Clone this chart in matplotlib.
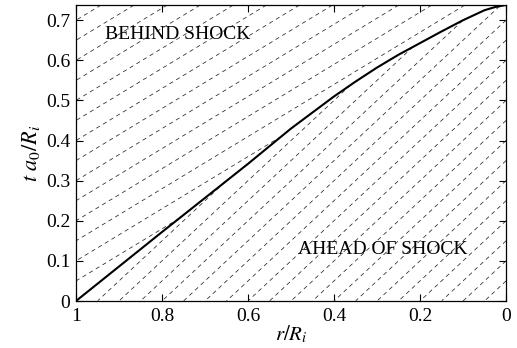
import numpy as np
import matplotlib
matplotlib.use("Agg")
import matplotlib.pyplot as plt

# ---- data ----
shock_r = [1.0, 0.9, 0.8, 0.7, 0.6, 0.5, 0.45, 0.4, 0.35, 0.3, 0.25, 0.2, 0.15, 0.1, 0.05, 0.025, 0.0]
shock_t = [0.0, 0.086, 0.172, 0.257, 0.342, 0.43, 0.47, 0.51, 0.547, 0.582, 0.614, 0.643, 0.672, 0.70, 0.725, 0.733, 0.738]

# characteristic lines ahead of the shock: start radii on t=0, slope dt/d(-r)
ahead_r0 = [0.05, 0.10, 0.15, 0.20, 0.25, 0.30, 0.35, 0.40, 0.45, 0.50, 0.55, 0.60,
            0.65, 0.70, 0.75, 0.80, 0.85, 0.90, 0.95]
ahead_slope = 1.0
# characteristic lines behind the shock: start times on r=1
behind_t0 = [0.05, 0.10, 0.15, 0.20, 0.25, 0.30, 0.35, 0.40, 0.45, 0.50, 0.55, 0.60, 0.65, 0.70]
behind_slope = 0.65

x_ticks = [1, 0.8, 0.6, 0.4, 0.2, 0]
x_ticklabels = ["1", "0.8", "0.6", "0.4", "0.2", "0"]
y_ticks = [0, 0.1, 0.2, 0.3, 0.4, 0.5, 0.6, 0.7]
y_ticklabels = ["0", "0.1", "0.2", "0.3", "0.4", "0.5", "0.6", "0.7"]

plt.rcParams["font.family"] = ["Liberation Serif", "DejaVu Serif"]
plt.rcParams["mathtext.fontset"] = "stix"
plt.rcParams["lines.scale_dashes"] = False

fig = plt.figure(figsize=(5.17, 3.48), dpi=100)
ax = fig.add_axes([76 / 517, 47 / 348, 430 / 517, 296 / 348])

ymax = shock_t[-1]
sr = np.array(shock_r)[::-1]
st = np.array(shock_t)[::-1]
rg = np.linspace(0, 1, 1201)
S = np.interp(rg, sr, st)

dash = (3.0, 2.6)
for r0 in ahead_r0:
    t = ahead_slope * (r0 - rg)
    m = (rg > r0) | (t > S)
    ax.plot(rg, np.ma.masked_where(m, t), color="0.15", lw=0.55, dashes=dash)

for t0 in behind_t0:
    t = t0 + behind_slope * (1 - rg)
    m = (t < S) | (t > ymax + 0.01)
    ax.plot(rg, np.ma.masked_where(m, t), color="0.15", lw=0.55, dashes=dash)

ax.plot(shock_r, shock_t, color="black", lw=1.5)

ax.text(0.763, 0.664, "BEHIND SHOCK", fontsize=14, ha="center", va="center")
ax.text(0.286, 0.1275, "AHEAD OF SHOCK", fontsize=14, ha="center", va="center")

ax.set_xlim(1, 0)
ax.set_ylim(0, ymax)
ax.set_xticks(x_ticks)
ax.set_xticklabels(x_ticklabels)
ax.set_yticks(y_ticks)
ax.set_yticklabels(y_ticklabels)
ax.tick_params(direction="in", length=5, width=0.8, labelsize=14, top=True, right=True)
ax.tick_params(axis="x", pad=5)
ax.tick_params(axis="y", pad=4)
for s in ax.spines.values():
    s.set_linewidth(0.9)

ax.set_xlabel(r"$r/R_i$", fontsize=15, labelpad=-1)
ax.set_ylabel(r"$t\ a_0/R_i$", fontsize=16, labelpad=3)

fig.savefig("out.png", dpi=100)
